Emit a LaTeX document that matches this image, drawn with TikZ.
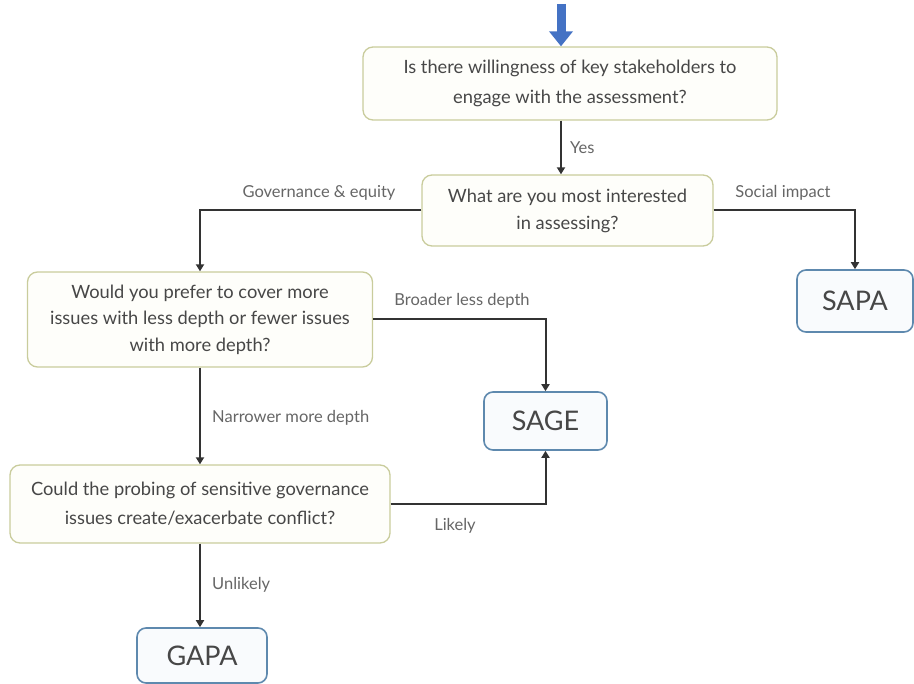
\documentclass[tikz,border=0pt]{standalone}
\usepackage{fontspec}
\setmainfont{Lato}
\usetikzlibrary{arrows.meta}
\definecolor{qborder}{HTML}{C9CC9C}
\definecolor{qfill}{HTML}{FEFEFA}
\definecolor{oborder}{HTML}{5E89AE}
\definecolor{ofill}{HTML}{F9FBFD}
\definecolor{txt}{HTML}{474747}
\definecolor{lbl}{HTML}{666666}
\definecolor{lin}{HTML}{333333}
\definecolor{blu}{HTML}{4472C4}
\tikzset{
  qbox/.style={draw=qborder, fill=qfill, line width=1.3pt, rounded corners=10pt,
    align=center, text=txt, font=\fontsize{18.3}{27}\selectfont, inner sep=0pt},
  obox/.style={draw=oborder, fill=ofill, line width=1.6pt, rounded corners=9pt,
    text=txt, font=\fontsize{27}{30}\selectfont, inner sep=0pt},
  conn/.style={draw=lin, line width=2pt, -{Triangle[width=8pt,length=7pt]}},
  lab/.style={text=lbl, font=\fontsize{16.5}{19}\selectfont, inner sep=1pt}
}
\begin{document}
\begin{tikzpicture}[x=1pt,y=-1pt]
\useasboundingbox (0,0) rectangle (914,684);
\node[qbox, minimum width=414pt, minimum height=73pt, font=\fontsize{18.3}{29.5}\selectfont] (b1) at (570,83.5)
  {Is there willingness of key stakeholders to\\engage with the assessment?};
\node[qbox, minimum width=291pt, minimum height=71pt] (b2) at (567.5,210.5)
  {What are you most interested\\in assessing?};
\node[qbox, minimum width=345pt, minimum height=95pt, font=\fontsize{18.3}{26.5}\selectfont] (b3) at (200,319.5)
  {Would you prefer to cover more\\issues with less depth or fewer issues\\with more depth?};
\node[qbox, minimum width=380pt, minimum height=78pt, font=\fontsize{18.3}{29}\selectfont] (b4) at (200,504)
  {Could the probing of sensitive governance\\issues create/exacerbate conflict?};
\node[obox, minimum width=116pt, minimum height=62pt] (sapa) at (855,301) {SAPA};
\node[obox, minimum width=123pt, minimum height=58pt] (sage) at (545.5,421) {SAGE};
\node[obox, minimum width=130pt, minimum height=55pt] (gapa) at (202,655.5) {GAPA};
\coordinate (start) at (561,4);
\draw[blu, line width=9pt, -{Triangle[width=23pt,length=15pt]}] (start) -- (start |- b1.north);
\draw[conn] (b1.south -| start) -- (b2.north -| start);
\node[lab, anchor=west] (yes) at (569,148) {Yes};
\draw[conn] (b2.west) -| (b3.north);
\node[lab] (ge) at (319,193) {Governance \& equity};
\draw[conn] (b2.east) -| (sapa.north);
\node[lab] (si) at (783,193) {Social impact};
\draw[conn] (b3.east) -| (sage.north);
\node[lab] (bld) at (462,301) {Broader less depth};
\draw[conn] (b3.south) -- (b4.north);
\node[lab, anchor=west] (nmd) at (211,418) {Narrower more depth};
\draw[conn] (b4.east) -| (sage.south);
\node[lab] (lik) at (455,526) {Likely};
\draw[conn] (b4.south) -- (b4.south |- gapa.north);
\node[lab, anchor=west] (unl) at (211,585) {Unlikely};
\end{tikzpicture}
\end{document}
